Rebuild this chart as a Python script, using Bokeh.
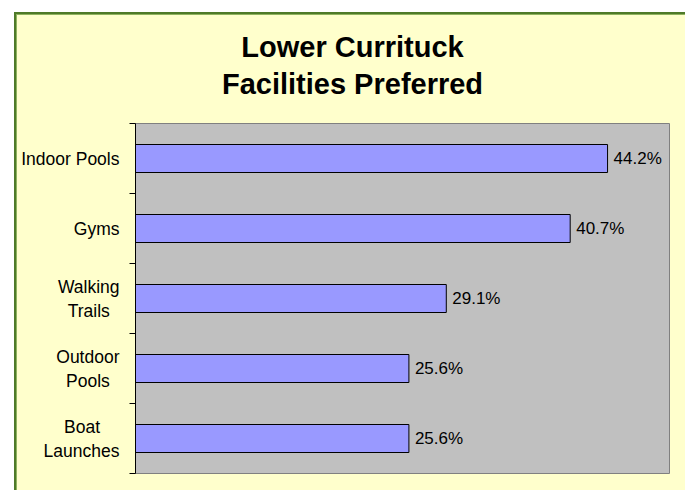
from bokeh.plotting import figure
from bokeh.models import Range1d, FixedTicker, ColumnDataSource, LabelSet, LinearAxis
from bokeh.core.properties import value
from bokeh.embed import file_html
from bokeh.resources import INLINE

# ---- data ----
# trailing spaces centre the shorter line under the longer one (lines are right-aligned)
categories = ["Indoor Pools", "Gyms", "Walking\nTrails  ", "Outdoor\nPools  ", "Boat    \nLaunches"]
values = [44.2, 40.7, 29.1, 25.6, 25.6]
value_labels = ["44.2%", "40.7%", "29.1%", "25.6%", "25.6%"]
title_lines = ["Lower Currituck", "Facilities Preferred"]

# ---- layout constants (canvas pixels) ----
W, H = 685, 490
FRAME_L, FRAME_T, FRAME_R, FRAME_B = 135, 123, 669, 473
XMAX = 50.0
FONT = "Liberation Sans"
n = len(categories)
frame_w = FRAME_R - FRAME_L

ypos = [n - i - 0.5 for i in range(n)]

src = ColumnDataSource(dict(y=ypos, v=values, vl=value_labels, zero=[0.0] * n))

p = figure(width=W, height=H, output_backend="svg", toolbar_location=None,
           x_range=Range1d(0, XMAX), y_range=Range1d(0, n),
           x_axis_location=None,
           min_border_left=FRAME_L, min_border_right=W - FRAME_R,
           min_border_top=FRAME_T, min_border_bottom=H - FRAME_B,
           styles={"background-color": "#FFFFCC",
                   "box-shadow": ("inset 14px 12px 0px 0px #FFFFFF, "
                                  "inset 16px 14px 0px 0px #4F7A28, "
                                  "inset 17px 15px 0px 0px #8FB35E")})

p.border_fill_color = None
p.background_fill_color = "#C0C0C0"
p.outline_line_color = "#808080"
p.outline_line_width = 1
p.grid.visible = False

# category axis: labels at band centres, tick marks at band boundaries
ax = p.yaxis[0]
ax.ticker = FixedTicker(ticks=ypos, minor_ticks=list(range(n + 1)))
ax.major_label_overrides = {y: c for y, c in zip(ypos, categories)}
ax.major_tick_out = 0
ax.major_tick_in = 0
ax.minor_tick_out = 6
ax.minor_tick_in = 0
ax.axis_line_color = "black"
ax.minor_tick_line_color = "black"
ax.major_label_standoff = 10
ax.major_label_text_font = FONT
ax.major_label_text_font_size = "17.5px"
ax.major_label_text_color = "black"

p.hbar(y="y", left="zero", right="v", height=0.4, source=src,
       fill_color="#9999FF", line_color="black", line_width=1)

p.add_layout(LabelSet(x="v", y="y", text="vl", source=src, x_offset=6,
                      text_align="left", text_baseline="middle",
                      text_font=value(FONT), text_font_size=value("17px"),
                      text_color="black"))

# title, centred over the whole chart area (not the plot frame)
title_cx = 352
title_x = round((title_cx - FRAME_L) / frame_w * XMAX, 2)
tax = LinearAxis(ticker=FixedTicker(ticks=[title_x], minor_ticks=[]),
                 major_label_overrides={title_x: "\n".join(title_lines)},
                 axis_line_color=None, major_tick_line_color=None,
                 minor_tick_line_color=None,
                 major_tick_out=0, major_tick_in=0,
                 major_label_standoff=24,
                 major_label_text_font=FONT,
                 major_label_text_font_size="29px",
                 major_label_text_font_style="bold",
                 major_label_text_color="black",
                 major_label_text_line_height=1.15)
p.add_layout(tax, "above")

open("out.html", "w").write(file_html(p, INLINE))
